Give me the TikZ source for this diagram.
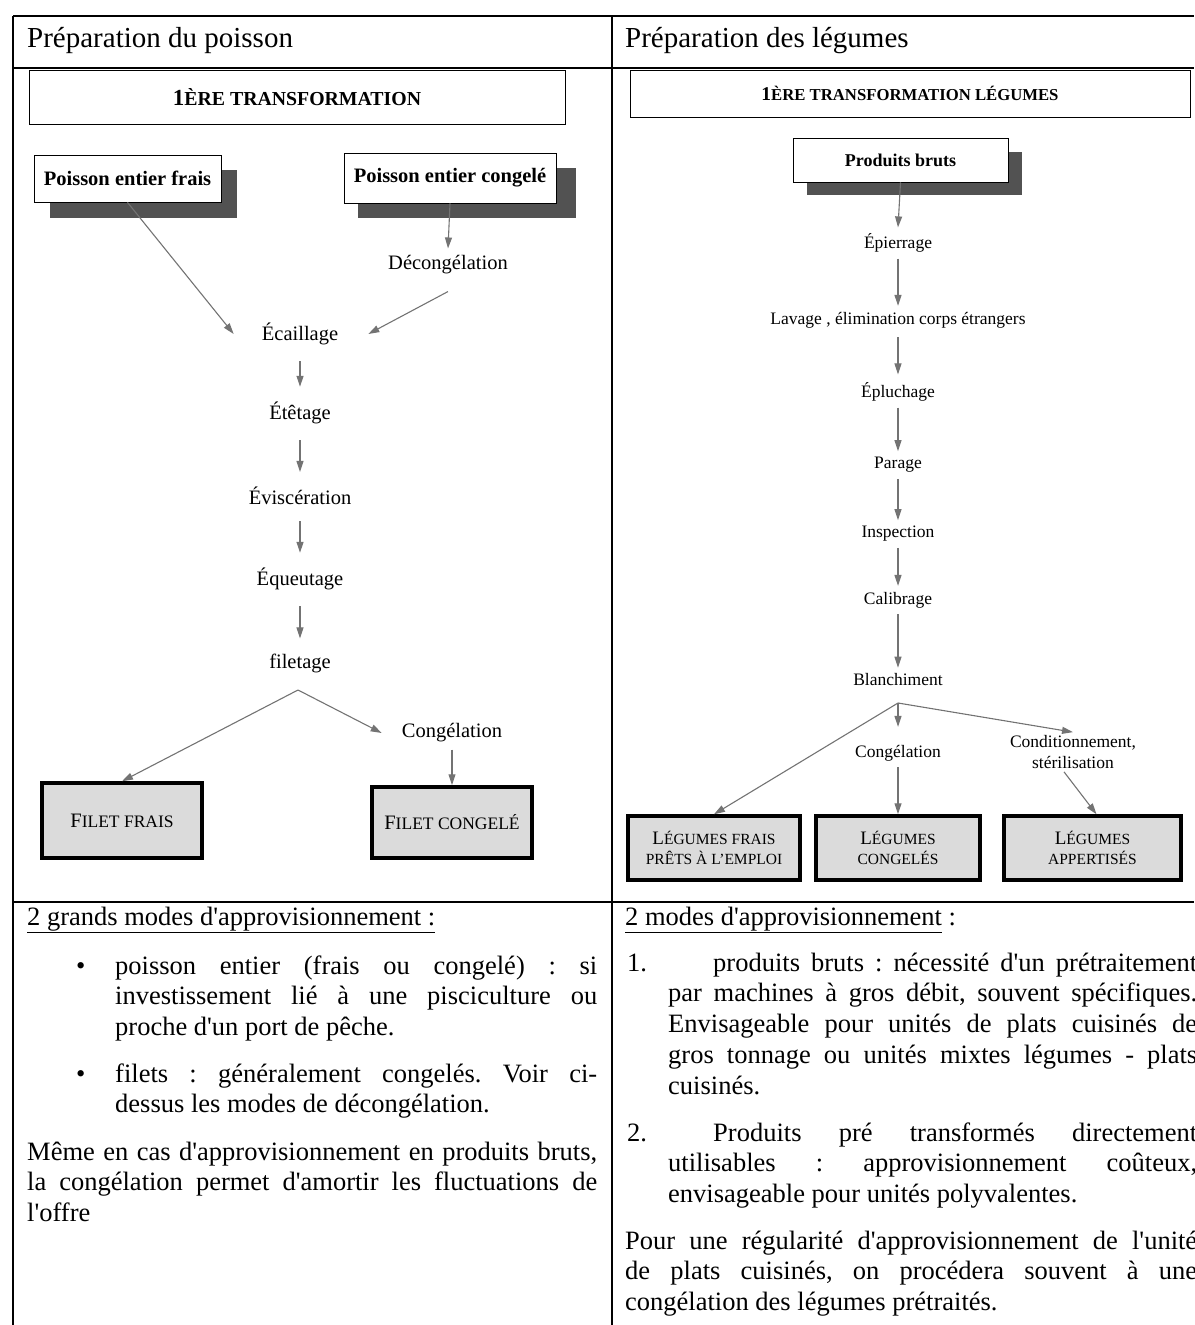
\documentclass[tikz,border=0pt]{standalone}
\usepackage{fontspec}
\setmainfont{Liberation Serif}[Ligatures=TeXOff]
\usetikzlibrary{arrows.meta,positioning,calc}
\frenchspacing

\definecolor{fleche}{gray}{0.45}
\definecolor{ombre}{gray}{0.32}
\definecolor{fondcase}{gray}{0.86}

% petites capitales simulees
\newcommand{\petitcap}[1]{{\fontsize{17.5}{20}\selectfont #1}}
\newcommand{\petitcapd}[1]{{\fontsize{15.5}{20}\selectfont #1}}

\tikzset{
  etape/.style={font=\fontsize{20.5}{24}\selectfont, inner xsep=2pt, inner ysep=7pt},
  etaped/.style={font=\fontsize{17.5}{21}\selectfont, inner xsep=2pt, inner ysep=6pt},
  fl/.style={draw=fleche, line width=1.1pt, -{Triangle[length=11pt,width=7pt]}},
  titre/.style={draw, line width=0.8pt, fill=white, inner sep=0pt},
  depart/.style={draw, line width=0.8pt, fill=white, inner sep=0pt, font=\bfseries\fontsize{20.5}{24}\selectfont},
  produit/.style={draw, line width=3.5pt, fill=fondcase, inner sep=0pt, align=center, font=\fontsize{15.5}{20}\selectfont},
  corps/.style={font=\fontsize{26.5}{30.8}\selectfont, inner sep=0pt, anchor=base west},
}

\begin{document}
\begin{tikzpicture}[x=1pt,y=-1pt]
  \useasboundingbox (0,0) rectangle (1194,1325);

  % Cadre du tableau
  \draw[line width=1.2pt] (13,16) -- (1194,16);
  \draw[line width=2pt] (13,68) -- (1194,68);
  \draw[line width=1.5pt] (13,902) -- (1194,902);
  \draw[line width=1.2pt] (13,16) -- (13,1325);
  \draw[line width=1.2pt] (612,16) -- (612,1325);

  % Titres des colonnes
  \node[font=\fontsize{29}{34}\selectfont, inner sep=0pt, anchor=base west] (hpoisson) at (27,47) {Préparation du poisson};
  \node[font=\fontsize{29}{34}\selectfont, inner sep=0pt, anchor=base west] (hlegumes) at (625,47) {Préparation des légumes};

  % ---------- Poisson ----------
  \node[titre, minimum width=536pt, minimum height=54pt] (transP) at (297,97)
    {\bfseries{\fontsize{23}{26}\selectfont 1}{\fontsize{19.8}{24}\selectfont ÈRE TRANSFORMATION}};

  \fill[ombre] (50,170) rectangle (237,218);
  \node[depart, minimum width=187pt, minimum height=47pt] (frais) at (127.5,178.5) {Poisson entier frais};
  \fill[ombre] (358,168) rectangle (576,218);
  \node[depart, minimum width=212pt, minimum height=50pt] (congele) at (450,178) {Poisson entier congelé};

  \node[etape] (decong) at (448,265) {Décongélation};
  \node[etape] (ecaill) at (300,334) {Écaillage};
  \node[etape] (etet) at (300,413) {Étêtage};
  \node[etape] (evisc) at (300,496) {Éviscération};
  \node[etape] (equeut) at (300,579) {Équeutage};
  \node[etape] (filet) at (300,663) {filetage};
  \coordinate (splitF) at (298,690);
  \node[etape] (congP) at (452,733) {Congélation};

  \node[produit, minimum width=160pt, minimum height=75pt] (filetFrais) at (122,820.5)
    {{\fontsize{20.5}{24}\selectfont F}\petitcap{ILET FRAIS}};
  \node[produit, minimum width=160pt, minimum height=71pt] (filetCong) at (452,822.5)
    {{\fontsize{20.5}{24}\selectfont F}\petitcap{ILET CONGELÉ}};

  \draw[fl] (frais.south) -- ([xshift=-26pt]ecaill.west);
  \draw[fl] (congele.south) -- (decong.north);
  \draw[fl] ([yshift=-10pt]decong.south) -- ([xshift=28pt]ecaill.east);
  \draw[fl, shorten <=9pt, shorten >=8pt] (ecaill) -- (etet);
  \draw[fl, shorten <=9pt, shorten >=8pt] (etet) -- (evisc);
  \draw[fl, shorten <=9pt, shorten >=8pt] (evisc) -- (equeut);
  \draw[fl, shorten <=9pt, shorten >=8pt] (equeut) -- (filet);
  \draw[fl] (splitF) -- (filetFrais.north);
  \draw[fl] (splitF) -- ([xshift=-18pt]congP.west);
  \draw[fl] (congP) -- (filetCong.north);

  % ---------- Legumes ----------
  \node[titre, minimum width=560pt, minimum height=47pt] (transL) at (910,93.5)
    {\bfseries{\fontsize{19.5}{22}\selectfont 1}{\fontsize{16.7}{20}\selectfont ÈRE TRANSFORMATION LÉGUMES}};

  \fill[ombre] (807,152) rectangle (1022,195);
  \node[depart, font=\bfseries\fontsize{18}{22}\selectfont, minimum width=215pt, minimum height=44pt] (bruts) at (900.5,160) {Produits bruts};

  \node[etaped] (epier) at (898,243) {Épierrage};
  \node[etaped] (lavage) at (898,320) {Lavage , élimination corps étrangers};
  \node[etaped] (epluch) at (898,392) {Épluchage};
  \node[etaped] (parage) at (898,465) {Parage};
  \node[etaped] (inspect) at (898,534) {Inspection};
  \node[etaped] (calib) at (898,600) {Calibrage};
  \node[etaped] (blanch) at (898,680) {Blanchiment};
  \coordinate (splitB) at (898,703);
  \node[etaped] (congL) at (898,753) {Congélation};
  \node[etaped, align=center, inner ysep=3pt] (condit) at (1073,752) {Conditionnement,\\stérilisation};

  \node[produit, minimum width=172pt, minimum height=64pt] (legFrais) at (714,848)
    {{\fontsize{19}{20}\selectfont L}\petitcapd{ÉGUMES FRAIS}\\\petitcapd{PRÊTS À L’EMPLOI}};
  \node[produit, minimum width=164pt, minimum height=64pt] (legCong) at (898,848)
    {{\fontsize{19}{20}\selectfont L}\petitcapd{ÉGUMES}\\\petitcapd{CONGELÉS}};
  \node[produit, minimum width=177pt, minimum height=64pt] (legApp) at (1092.5,848)
    {{\fontsize{19}{20}\selectfont L}\petitcapd{ÉGUMES}\\\petitcapd{APPERTISÉS}};

  \draw[fl] (bruts.south) -- (epier.north);
  \draw[fl] (epier) -- (lavage);
  \draw[fl, shorten <=3pt, shorten >=2pt] (lavage) -- (epluch);
  \draw[fl] (epluch) -- (parage);
  \draw[fl] (parage) -- (inspect);
  \draw[fl] (inspect) -- (calib);
  \draw[fl] (calib) -- (blanch);
  \draw[fl] (splitB) -- (legFrais.north);
  \draw[fl, shorten >=12pt] (splitB) -- (congL.north);
  \draw[fl] (splitB) -- (condit.north);
  \draw[fl] (congL) -- (legCong.north);
  \draw[fl] ([xshift=-9pt]condit.south) -- ([xshift=4pt]legApp.north);

  % ---------- Approvisionnement ----------
  \node[corps] (appP) at (27,925) {\underline{2 grands modes d'approvisionnement :}};
  \node[corps] (puce1) at (76,974) {•};
  \node[corps, text width=482pt, align=justify] (txtP1) at (115,974)
    {poisson entier (frais ou congelé) : si\linebreak investissement lié à une pisciculture ou\linebreak proche d'un port de pêche.};
  \node[corps] (puce2) at (76,1082) {•};
  \node[corps, text width=482pt, align=justify] (txtP2) at (115,1082)
    {filets : généralement congelés. Voir ci-\linebreak dessus les modes de décongélation.};
  \node[corps, text width=570pt, align=justify] (txtP3) at (27,1160)
    {Même en cas d'approvisionnement en produits bruts,\linebreak la congélation permet d'amortir les fluctuations de\linebreak l'offre};

  \node[corps] (appL) at (625,925) {\underline{2 modes d'approvisionnement} :};
  \node[corps] (num1) at (627,971) {1.};
  \node[corps, text width=529pt, align=justify] (txtL1) at (668,971)
    {\hspace*{45pt}produits bruts : nécessité d'un prétraitement\linebreak par machines à gros débit, souvent spécifiques.\linebreak Envisageable pour unités de plats cuisinés de\linebreak gros tonnage ou unités mixtes légumes - plats\linebreak cuisinés.};
  \node[corps] (num2) at (627,1141) {2.};
  \node[corps, text width=529pt, align=justify] (txtL2) at (668,1141)
    {\hspace*{45pt}Produits pré transformés directement\linebreak utilisables : approvisionnement coûteux,\linebreak envisageable pour unités polyvalentes.};
  \node[corps, text width=572pt, align=justify] (txtL3) at (625,1249)
    {Pour une régularité d'approvisionnement de l'unité\linebreak de plats cuisinés, on procédera souvent à une\linebreak congélation des légumes prétraités.};
\end{tikzpicture}
\end{document}
